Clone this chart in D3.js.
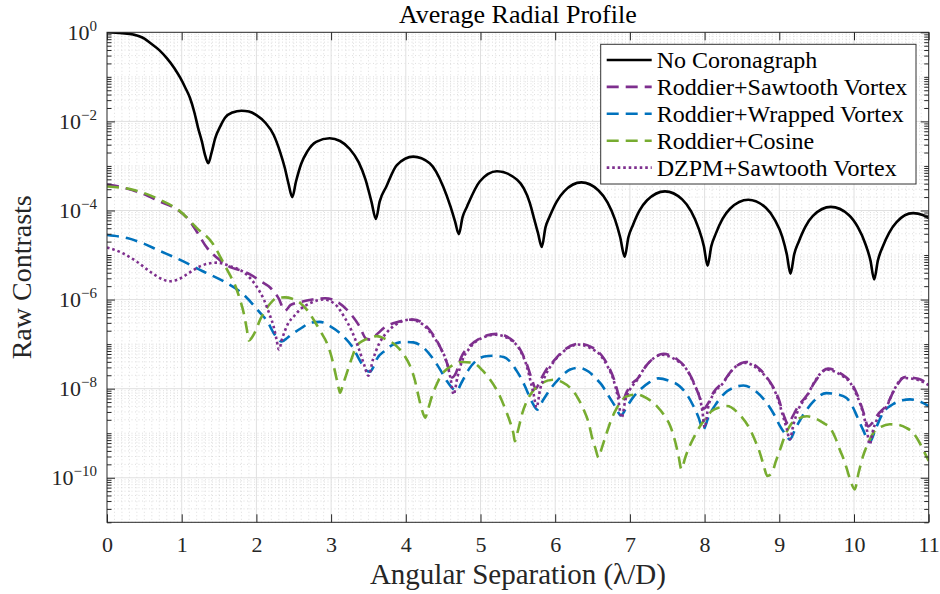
<!DOCTYPE html>
<html>
<head>
<meta charset="utf-8">
<script src="https://cdn.jsdelivr.net/npm/d3@7"></script>
<style>
  body { margin: 0; background: #fff; }
  text { font-family: "Liberation Serif", "Times New Roman", serif; }
</style>
</head>
<body>
<div id="chart"></div>
<script>
// data: [angular separation (lambda/D), log10(raw contrast)]
const noCoronagraph = [
  [0,0],[0.2,-0.02],[0.35,-0.05],[0.5,-0.14],[0.58,-0.24],[0.7,-0.40],[0.8,-0.58],[0.9,-0.80],[0.98,-1.02],
  [1.05,-1.25],[1.11,-1.47],[1.17,-1.80],[1.22,-2.15],[1.27,-2.45],[1.31,-2.74],[1.356,-2.94],
  [1.40,-2.70],[1.45,-2.37],[1.52,-2.10],[1.58,-1.92],[1.68,-1.80],[1.80,-1.76],[1.90,-1.78],[2.00,-1.86],
  [2.12,-2.03],[2.23,-2.30],[2.32,-2.70],[2.38,-3.04],[2.43,-3.40],[2.48,-3.70],
  [2.53,-3.35],[2.60,-2.95],[2.68,-2.68],[2.80,-2.46],[2.98,-2.38],[3.12,-2.44],[3.25,-2.62],[3.37,-2.92],
  [3.46,-3.30],[3.54,-3.80],[3.60,-4.19],
  [3.65,-3.80],[3.74,-3.46],[3.88,-2.98],[4.10,-2.79],[4.32,-2.94],[4.50,-3.46],[4.60,-3.92],[4.66,-4.25],[4.71,-4.53],
  [4.76,-4.15],[4.82,-3.91],[4.99,-3.35],[5.22,-3.12],[5.49,-3.31],[5.66,-3.83],[5.72,-4.20],[5.77,-4.51],[5.82,-4.82],
  [5.87,-4.38],[5.93,-4.12],[6.02,-3.80],[6.12,-3.57],[6.35,-3.37],[6.58,-3.55],[6.70,-3.82],[6.80,-4.20],[6.87,-4.60],[6.93,-5.04],
  [6.98,-4.60],[7.04,-4.33],[7.13,-4.00],[7.23,-3.77],[7.47,-3.57],[7.70,-3.75],[7.82,-4.02],[7.92,-4.40],[7.99,-4.80],[8.04,-5.24],
  [8.09,-4.80],[8.15,-4.52],[8.24,-4.19],[8.34,-3.96],[8.585,-3.76],[8.82,-3.94],[8.94,-4.21],[9.04,-4.59],[9.10,-4.98],[9.15,-5.42],
  [9.20,-4.98],[9.26,-4.70],[9.35,-4.36],[9.45,-4.12],[9.69,-3.92],[9.93,-4.10],[10.05,-4.37],[10.15,-4.74],[10.22,-5.12],[10.27,-5.55],
  [10.32,-5.12],[10.38,-4.83],[10.47,-4.50],[10.57,-4.26],[10.79,-4.06],[10.92,-4.10],[11,-4.17]
];
const roddierSawtooth = [
  [0,-3.42],[0.2,-3.48],[0.44,-3.60],[0.71,-3.80],[0.93,-3.97],[1.10,-4.22],[1.20,-4.47],[1.34,-4.84],[1.50,-5.10],
  [1.65,-5.27],[1.80,-5.35],[1.92,-5.44],[2.05,-5.58],[2.19,-5.74],[2.30,-5.98],[2.38,-6.25],[2.46,-6.12],[2.60,-6.05],
  [2.75,-6.00],[2.92,-5.97],[3.08,-6.05],[3.25,-6.30],[3.38,-6.60],[3.47,-6.88],[3.53,-6.90],[3.60,-6.80],[3.72,-6.62],
  [3.90,-6.50],[4.10,-6.45],[4.22,-6.52],[4.37,-6.80],[4.47,-7.10],[4.55,-7.42],[4.62,-7.75],[4.67,-7.65],[4.74,-7.30],
  [4.85,-7.05],[4.98,-6.88],[5.22,-6.77],[5.40,-6.88],[5.53,-7.12],[5.62,-7.45],[5.69,-7.80],[5.74,-8.00],[5.79,-7.85],
  [5.87,-7.60],[5.97,-7.40],[6.10,-7.16],[6.33,-6.99],[6.50,-7.08],[6.62,-7.25],[6.72,-7.52],[6.80,-7.85],[6.86,-8.20],
  [6.90,-8.30],[6.95,-8.10],[7.02,-7.90],[7.10,-7.78],[7.23,-7.46],[7.45,-7.22],[7.63,-7.34],[7.76,-7.56],[7.87,-7.92],
  [7.94,-8.22],[7.99,-8.45],[8.04,-8.35],[8.12,-8.08],[8.25,-7.85],[8.37,-7.58],[8.56,-7.40],[8.75,-7.58],[8.88,-7.86],
  [8.99,-8.22],[9.06,-8.60],[9.12,-8.80],[9.17,-8.65],[9.25,-8.40],[9.37,-8.15],[9.48,-7.84],[9.65,-7.55],[9.84,-7.68],
  [9.96,-7.86],[10.06,-8.20],[10.13,-8.55],[10.19,-8.85],[10.24,-8.78],[10.32,-8.58],[10.44,-8.36],[10.54,-8.03],
  [10.68,-7.74],[10.86,-7.78],[11,-7.90]
];
const roddierWrapped = [
  [0,-4.55],[0.27,-4.62],[0.5,-4.75],[0.67,-4.88],[0.98,-5.11],[1.29,-5.37],[1.56,-5.59],[1.83,-5.89],[2.05,-6.30],
  [2.15,-6.50],[2.23,-6.75],[2.34,-6.94],[2.42,-6.85],[2.50,-6.75],[2.62,-6.62],[2.72,-6.52],[2.85,-6.50],[2.99,-6.60],
  [3.15,-6.80],[3.28,-7.05],[3.41,-7.44],[3.48,-7.60],[3.52,-7.62],[3.57,-7.50],[3.61,-7.34],[3.72,-7.15],[3.83,-7.01],
  [3.98,-6.95],[4.10,-6.96],[4.25,-7.10],[4.37,-7.34],[4.47,-7.60],[4.55,-7.83],[4.63,-8.00],[4.68,-8.05],[4.75,-7.85],
  [4.85,-7.55],[4.95,-7.36],[5.05,-7.28],[5.17,-7.26],[5.31,-7.29],[5.40,-7.40],[5.48,-7.59],[5.56,-7.82],[5.62,-8.04],
  [5.69,-8.30],[5.76,-8.47],[5.84,-8.25],[5.93,-8.02],[6.05,-7.78],[6.20,-7.57],[6.31,-7.53],[6.45,-7.62],[6.55,-7.78],
  [6.62,-7.91],[6.71,-8.15],[6.80,-8.39],[6.88,-8.60],[6.96,-8.40],[7.05,-8.18],[7.14,-8.02],[7.26,-7.86],[7.38,-7.77],
  [7.52,-7.82],[7.67,-7.95],[7.77,-8.15],[7.85,-8.39],[7.92,-8.65],[7.98,-8.92],[8.06,-8.60],[8.15,-8.35],[8.30,-8.06],
  [8.40,-7.97],[8.52,-7.93],[8.68,-8.05],[8.83,-8.32],[8.93,-8.58],[9.01,-8.84],[9.08,-9.02],[9.14,-9.14],[9.22,-8.88],
  [9.34,-8.54],[9.46,-8.28],[9.63,-8.10],[9.78,-8.13],[9.90,-8.21],[9.98,-8.40],[10.04,-8.62],[10.12,-8.92],[10.21,-9.20],
  [10.29,-8.90],[10.39,-8.54],[10.52,-8.35],[10.65,-8.26],[10.75,-8.24],[10.88,-8.29],[11,-8.39]
];
const roddierCosine = [
  [0,-3.46],[0.36,-3.54],[0.71,-3.76],[0.98,-4.02],[1.20,-4.39],[1.41,-4.73],[1.56,-5.18],[1.64,-5.43],[1.72,-5.70],
  [1.78,-6.00],[1.83,-6.30],[1.87,-6.65],[1.90,-6.92],[1.94,-6.85],[1.99,-6.70],[2.05,-6.45],[2.10,-6.30],[2.18,-6.10],
  [2.28,-5.96],[2.38,-5.95],[2.48,-5.98],[2.59,-6.08],[2.70,-6.28],[2.79,-6.52],[2.87,-6.75],[2.95,-7.00],[3.00,-7.25],
  [3.05,-7.60],[3.09,-7.90],[3.12,-8.09],[3.16,-7.90],[3.21,-7.65],[3.28,-7.30],[3.34,-7.05],[3.43,-6.92],[3.52,-6.86],
  [3.61,-6.82],[3.72,-6.88],[3.88,-7.05],[3.98,-7.25],[4.06,-7.50],[4.12,-7.80],[4.17,-8.17],[4.22,-8.50],[4.26,-8.65],
  [4.30,-8.45],[4.35,-8.17],[4.42,-7.88],[4.48,-7.68],[4.56,-7.55],[4.64,-7.46],[4.76,-7.40],[4.90,-7.42],[5.02,-7.58],
  [5.13,-7.80],[5.20,-7.98],[5.26,-8.17],[5.33,-8.45],[5.40,-8.77],[5.44,-9.00],[5.46,-9.18],[5.50,-8.95],[5.56,-8.55],
  [5.62,-8.28],[5.69,-8.08],[5.80,-7.90],[5.97,-7.80],[6.10,-7.86],[6.20,-7.98],[6.30,-8.20],[6.38,-8.47],[6.45,-8.78],
  [6.49,-9.07],[6.54,-9.35],[6.58,-9.55],[6.62,-9.35],[6.69,-8.99],[6.75,-8.70],[6.82,-8.45],[6.96,-8.17],[7.09,-8.13],
  [7.23,-8.22],[7.36,-8.39],[7.46,-8.60],[7.54,-8.84],[7.60,-9.15],[7.65,-9.50],[7.69,-9.81],[7.74,-9.55],[7.80,-9.29],
  [7.87,-9.05],[7.94,-8.84],[8.02,-8.65],[8.09,-8.51],[8.20,-8.42],[8.30,-8.39],[8.45,-8.55],[8.61,-8.92],[8.68,-9.18],
  [8.74,-9.44],[8.79,-9.72],[8.84,-9.96],[8.90,-9.90],[8.95,-9.65],[9.01,-9.37],[9.07,-9.08],[9.14,-8.84],[9.25,-8.68],
  [9.37,-8.62],[9.50,-8.68],[9.60,-8.78],[9.68,-8.88],[9.75,-9.10],[9.81,-9.37],[9.87,-9.62],[9.92,-9.89],[9.96,-10.10],
  [10.01,-10.26],[10.06,-9.90],[10.12,-9.52],[10.19,-9.22],[10.26,-8.99],[10.36,-8.86],[10.48,-8.80],[10.58,-8.81],
  [10.70,-8.88],[10.79,-8.99],[10.88,-9.22],[10.97,-9.52],[11,-9.62]
];
const dzpmSawtooth = [
  [0,-4.83],[0.2,-4.95],[0.4,-5.15],[0.6,-5.40],[0.75,-5.55],[0.83,-5.59],[0.95,-5.55],[1.1,-5.40],[1.25,-5.25],
  [1.47,-5.17],[1.65,-5.25],[1.87,-5.44],[2.00,-5.70],[2.10,-6.00],[2.18,-6.35],[2.23,-6.60],[2.27,-6.90],[2.30,-7.12],
  [2.35,-6.85],[2.42,-6.55],[2.50,-6.38],[2.60,-6.20],[2.72,-6.08],[2.90,-6.00],[3.05,-6.10],[3.18,-6.40],[3.28,-6.72],
  [3.37,-7.10],[3.44,-7.45],[3.50,-7.71],[3.56,-7.35],[3.64,-7.00],[3.74,-6.75],[3.86,-6.57],[4.06,-6.45],[4.22,-6.55],
  [4.37,-6.83],[4.47,-7.10],[4.55,-7.42],[4.60,-7.78],[4.64,-8.13],[4.69,-7.75],[4.76,-7.35],[4.85,-7.10],[4.95,-6.93],
  [5.20,-6.79],[5.38,-6.88],[5.53,-7.14],[5.62,-7.50],[5.68,-7.90],[5.71,-8.11],[5.75,-8.42],[5.80,-8.00],[5.87,-7.70],
  [5.97,-7.42],[6.10,-7.18],[6.31,-7.01],[6.48,-7.10],[6.60,-7.24],[6.70,-7.50],[6.78,-7.80],[6.84,-8.20],[6.89,-8.65],
  [6.94,-8.25],[7.00,-8.02],[7.09,-7.82],[7.22,-7.48],[7.43,-7.24],[7.62,-7.36],[7.76,-7.57],[7.86,-7.90],[7.94,-8.24],
  [7.97,-8.50],[8.00,-8.87],[8.05,-8.40],[8.12,-8.12],[8.25,-7.87],[8.36,-7.60],[8.54,-7.42],[8.74,-7.60],[8.88,-7.87],
  [8.98,-8.22],[9.05,-8.62],[9.10,-8.90],[9.14,-9.14],[9.19,-8.80],[9.26,-8.45],[9.37,-8.17],[9.47,-7.85],[9.63,-7.57],
  [9.83,-7.70],[9.95,-7.87],[10.05,-8.20],[10.12,-8.54],[10.17,-8.90],[10.21,-9.25],[10.26,-8.90],[10.33,-8.62],
  [10.44,-8.39],[10.53,-8.05],[10.66,-7.76],[10.85,-7.80],[11,-7.92]
];

const seriesNames = ["No Coronagraph", "Roddier+Sawtooth Vortex", "Roddier+Wrapped Vortex", "Roddier+Cosine", "DZPM+Sawtooth Vortex"];
const xTicks = d3.range(0, 12);
const yTickExps = [0, -2, -4, -6, -8, -10];

// config
const FONT = "Liberation Serif, Times New Roman, serif";
const width = 940, height = 594;
const margin = {left: 107, top: 32.3};
const plotW = 821.7, plotH = 490;
const series = [
  {name: seriesNames[0], data: noCoronagraph, color: "#000000", dash: null},
  {name: seriesNames[1], data: roddierSawtooth, color: "#7E2F8E", dash: "12,7"},
  {name: seriesNames[2], data: roddierWrapped, color: "#0072BD", dash: "12,7"},
  {name: seriesNames[3], data: roddierCosine, color: "#77AC30", dash: "12,7"},
  {name: seriesNames[4], data: dzpmSawtooth, color: "#7E2F8E", dash: "2.6,2.9"}
];

const x = d3.scaleLinear().domain([0, 11]).range([0, plotW]);
const y = d3.scaleLog().domain([1e-11, 1]).range([plotH, 0]);

const minorY = [];
for (let k = -11; k < 0; k++) {
  for (let m = 2; m <= 9; m++) minorY.push(m * Math.pow(10, k));
  if (k % 2 !== 0) minorY.push(Math.pow(10, k));
}
const minorX = d3.range(1, 110).filter(i => i % 10 !== 0).map(i => i / 10);

const svg = d3.select("#chart").append("svg")
  .attr("width", width).attr("height", height)
  .attr("font-family", FONT);

const g = svg.append("g").attr("transform", `translate(${margin.left},${margin.top})`);

// grid
const grid = g.append("g");
grid.selectAll(".mx").data(minorX).enter().append("line")
  .attr("x1", d => x(d)).attr("x2", d => x(d)).attr("y1", 0).attr("y2", plotH)
  .attr("stroke", "#d6d6d6").attr("stroke-width", 0.8).attr("stroke-dasharray", "1,2.5");
grid.selectAll(".my").data(minorY).enter().append("line")
  .attr("x1", 0).attr("x2", plotW).attr("y1", d => y(d)).attr("y2", d => y(d))
  .attr("stroke", "#d6d6d6").attr("stroke-width", 0.8).attr("stroke-dasharray", "1,2.5");
grid.selectAll(".Mx").data(xTicks.slice(1, -1)).enter().append("line")
  .attr("x1", d => x(d)).attr("x2", d => x(d)).attr("y1", 0).attr("y2", plotH)
  .attr("stroke", "#e0e0e0").attr("stroke-width", 1);
grid.selectAll(".My").data(yTickExps.slice(1)).enter().append("line")
  .attr("x1", 0).attr("x2", plotW).attr("y1", d => y(Math.pow(10, d))).attr("y2", d => y(Math.pow(10, d)))
  .attr("stroke", "#e0e0e0").attr("stroke-width", 1);

// lines
svg.append("defs").append("clipPath").attr("id", "clip")
  .append("rect").attr("width", plotW).attr("height", plotH);

const line = d3.line()
  .x(d => x(d[0]))
  .y(d => y(Math.pow(10, d[1])))
  .curve(d3.curveMonotoneX);

g.append("g").attr("clip-path", "url(#clip)")
  .selectAll("path").data(series).enter().append("path")
  .attr("d", d => line(d.data))
  .attr("fill", "none")
  .attr("stroke", d => d.color)
  .attr("stroke-width", 2.6)
  .attr("stroke-dasharray", d => d.dash);

// axes (ticks pointing inward, box on)
const axisColor = "#262626";
const styleAxis = sel => {
  sel.attr("font-family", FONT).attr("font-size", 22);
  sel.select(".domain").remove();
  sel.selectAll(".tick line").attr("stroke", axisColor);
  sel.selectAll(".tick text").attr("fill", axisColor);
};

g.append("g").attr("transform", `translate(0,${plotH})`)
  .call(d3.axisBottom(x).tickValues(xTicks).tickSize(-8).tickPadding(14).tickFormat(d3.format("d")))
  .call(styleAxis);

g.append("g")
  .call(d3.axisTop(x).tickValues(xTicks).tickSize(-8).tickFormat(""))
  .call(styleAxis);

const yLeft = g.append("g")
  .call(d3.axisLeft(y).tickValues(yTickExps.map(e => Math.pow(10, e))).tickSize(-8).tickPadding(10))
  .call(styleAxis);
yLeft.selectAll(".tick text")
  .each(function(d) {
    const t = d3.select(this).text("");
    t.append("tspan").text("10");
    const e = Math.round(Math.log10(d));
    t.append("tspan").attr("dy", "-0.62em").attr("font-size", 15)
      .text(e < 0 ? "\u2212" + (-e) : String(e));
  });

g.append("g")
  .call(d3.axisLeft(y).tickValues(minorY).tickSize(-4.5).tickFormat(""))
  .call(styleAxis);
g.append("g").attr("transform", `translate(${plotW},0)`)
  .call(d3.axisRight(y).tickValues(yTickExps.map(e => Math.pow(10, e))).tickSize(-8).tickFormat(""))
  .call(styleAxis);
g.append("g").attr("transform", `translate(${plotW},0)`)
  .call(d3.axisRight(y).tickValues(minorY).tickSize(-4.5).tickFormat(""))
  .call(styleAxis);

// box
g.append("rect").attr("width", plotW).attr("height", plotH)
  .attr("fill", "none").attr("stroke", axisColor).attr("stroke-width", 1);

// labels
svg.append("text")
  .attr("x", margin.left + plotW / 2).attr("y", 23)
  .attr("text-anchor", "middle").attr("font-size", 26).attr("fill", "#000")
  .text("Average Radial Profile");
svg.append("text")
  .attr("x", margin.left + plotW / 2).attr("y", 584)
  .attr("text-anchor", "middle").attr("font-size", 29).attr("fill", axisColor)
  .text("Angular Separation (\u03BB/D)");
svg.append("text")
  .attr("transform", `translate(31,${margin.top + plotH / 2}) rotate(-90)`)
  .attr("text-anchor", "middle").attr("font-size", 28).attr("fill", axisColor)
  .text("Raw Contrasts");

// legend
const legend = svg.append("g").attr("transform", "translate(600.7,44.3)");
legend.append("rect").attr("width", 315.3).attr("height", 139.7)
  .attr("fill", "#fff").attr("stroke", "#333").attr("stroke-width", 1);
const rows = legend.selectAll(".row").data(series).enter().append("g")
  .attr("transform", (d, i) => `translate(0,${15.7 + i * 26.9})`);
rows.append("line")
  .attr("x1", 6).attr("x2", 51).attr("y1", 0).attr("y2", 0)
  .attr("stroke", d => d.color).attr("stroke-width", 2.6)
  .attr("stroke-dasharray", d => d.dash);
rows.append("text")
  .attr("x", 56).attr("dy", "0.33em").attr("font-size", 24).attr("fill", "#000")
  .text(d => d.name);
</script>
</body>
</html>
